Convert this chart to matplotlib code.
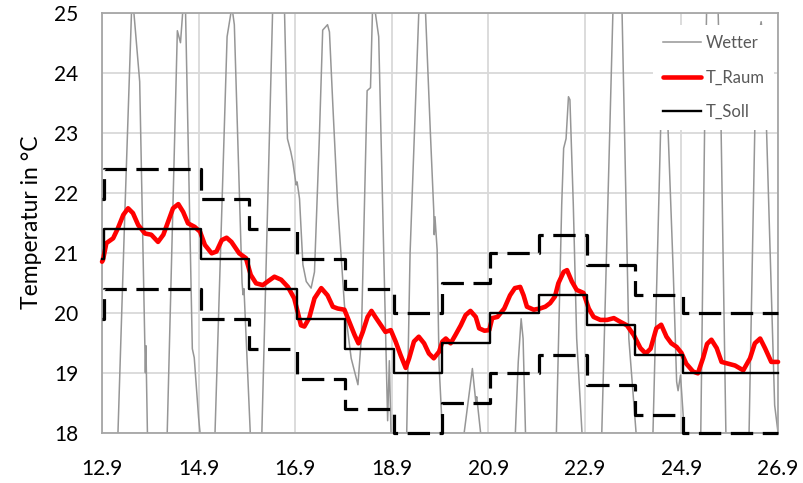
import matplotlib.pyplot as plt
import numpy as np

plt.rcParams['font.family'] = ['Lato', 'DejaVu Sans']

# Zeitachse in Tagen ab 12.9. 00:00
x_ticks = [0, 2, 4, 6, 8, 10, 12, 14]
x_labels = ['12.9', '14.9', '16.9', '18.9', '20.9', '22.9', '24.9', '26.9']

# Außentemperatur (Wetter), nur der Bereich 18..25 °C ist sichtbar
wetter_tag = [0.00, 0.15, 0.33, 0.47, 0.61, 0.64, 0.66, 0.78, 0.886, 0.898, 0.909, 0.94,
              1.12, 1.35, 1.56, 1.625, 1.67, 1.70, 1.73, 1.87, 1.91, 2.00, 2.03,
              2.18, 2.34, 2.59, 2.69, 2.74, 2.90, 2.92, 2.94, 3.07,
              3.18, 3.31, 3.53, 3.65, 3.78, 3.84, 3.91, 3.95, 4.02, 4.04, 4.09, 4.16, 4.23,
              4.33, 4.40, 4.50, 4.57, 4.67, 4.71, 4.78, 4.88, 5.02, 5.16, 5.30, 5.37,
              5.49, 5.56, 5.60, 5.63, 5.66, 5.73, 5.915, 5.95, 5.99,
              6.15, 6.31, 6.38, 6.56, 6.62, 6.70, 6.80, 6.87, 6.88, 6.895, 6.94, 6.98, 7.05,
              7.28, 7.50, 7.67, 7.74, 7.76, 7.84,
              8.20, 8.56, 8.62, 8.68, 8.72, 8.77,
              9.10, 9.41, 9.52, 9.56, 9.61, 9.66, 9.69, 9.76, 9.83, 9.94,
              10.15, 10.35, 10.58, 10.67, 10.77, 10.91, 11.06,
              11.22, 11.41, 11.57, 11.65, 11.72, 11.83, 11.90, 11.93, 11.98, 12.06,
              12.22, 12.40, 12.48, 12.52, 12.64, 12.76, 12.82, 12.92,
              13.15, 13.40, 13.52, 13.60, 13.65, 13.70, 13.76, 13.93, 14.00]
wetter_temp = [15.5, 14.0, 18.0, 21.6, 25.0, 25.3, 25.0, 23.85, 19.5, 19.0, 19.45, 18.0,
               14.5, 18.0, 24.7, 24.5, 25.0, 25.6, 25.0, 19.4, 19.25, 18.25, 18.0,
               14.8, 18.0, 24.6, 25.1, 24.8, 20.5, 20.3, 20.4, 18.0,
               15.0, 18.0, 25.0, 28.0, 25.0, 22.9, 22.68, 22.52, 22.13, 22.18, 21.9, 20.8, 20.52,
               20.41, 20.68, 22.9, 24.71, 24.8, 24.68, 23.46, 21.8, 20.13, 19.24, 18.8, 19.57,
               23.7, 23.75, 25.0, 25.4, 25.0, 24.6, 18.2, 19.2, 17.8,
               14.5, 18.0, 21.0, 25.0, 26.0, 25.0, 23.0, 21.7, 21.3, 21.6, 21.05, 19.13, 18.0,
               16.0, 18.0, 19.07, 18.52, 18.6, 18.0,
               16.0, 18.0, 19.18, 19.9, 19.57, 18.0,
               15.5, 18.0, 21.8, 22.74, 22.9, 23.6, 23.55, 21.8, 19.57, 18.0,
               15.0, 18.0, 25.0, 26.5, 25.0, 19.57, 18.0,
               15.0, 18.0, 23.1, 24.3, 23.1, 20.68, 18.85, 18.7, 18.96, 18.0,
               15.0, 18.0, 23.1, 25.0, 27.5, 25.0, 23.1, 18.0,
               15.0, 18.0, 23.1, 24.6, 24.85, 24.5, 23.1, 18.46, 18.0]

# Raumtemperatur
raum_tag = [0.00, 0.02, 0.09, 0.23, 0.33, 0.44, 0.54, 0.64, 0.75, 0.89,
            1.02, 1.16, 1.27, 1.37, 1.47, 1.58, 1.68, 1.78, 1.92,
            2.03, 2.13, 2.27, 2.37, 2.48, 2.58, 2.68, 2.79, 2.84, 2.98,
            3.08, 3.19, 3.33, 3.43, 3.57, 3.71, 3.85, 3.98,
            4.05, 4.12, 4.19, 4.29, 4.40, 4.54, 4.67, 4.78, 4.88,
            5.02, 5.12, 5.23, 5.31, 5.40, 5.50, 5.58, 5.66, 5.77, 5.87, 5.98,
            6.08, 6.18, 6.29, 6.36, 6.46, 6.56, 6.67, 6.77, 6.87, 6.98,
            7.05, 7.12, 7.22, 7.32, 7.43, 7.53, 7.63, 7.74, 7.81, 7.92,
            8.02, 8.08, 8.19, 8.33, 8.45, 8.55, 8.66, 8.73, 8.80, 8.94,
            9.07, 9.18, 9.28, 9.38, 9.45, 9.56, 9.63, 9.73, 9.83, 9.97,
            10.08, 10.18, 10.32, 10.46, 10.60, 10.73, 10.87,
            11.01, 11.15, 11.26, 11.36, 11.48, 11.58, 11.69, 11.79, 11.90,
            12.00, 12.10, 12.24, 12.34, 12.45, 12.53, 12.62, 12.73, 12.83, 12.97,
            13.11, 13.28, 13.42, 13.52, 13.63, 13.73, 13.86, 14.00]
raum_temp = [20.85, 20.88, 21.16, 21.24, 21.41, 21.63, 21.74, 21.66, 21.46, 21.32,
             21.30, 21.18, 21.30, 21.52, 21.74, 21.81, 21.68, 21.49, 21.43,
             21.35, 21.13, 20.99, 21.02, 21.21, 21.25, 21.18, 21.05, 20.99, 20.91,
             20.63, 20.49, 20.46, 20.52, 20.60, 20.55, 20.43, 20.24,
             20.02, 19.79, 19.77, 19.91, 20.24, 20.41, 20.29, 20.10, 20.07,
             20.05, 19.85, 19.63, 19.49, 19.68, 19.93, 20.03, 19.93, 19.80, 19.68, 19.71,
             19.52, 19.30, 19.08, 19.24, 19.52, 19.60, 19.49, 19.32, 19.24, 19.35,
             19.52, 19.57, 19.49, 19.63, 19.79, 19.96, 20.03, 19.93, 19.74, 19.70,
             19.71, 19.91, 19.93, 20.07, 20.29, 20.41, 20.43, 20.29, 20.10, 20.05,
             20.07, 20.10, 20.16, 20.27, 20.49, 20.68, 20.71, 20.52, 20.38, 20.33,
             20.07, 19.93, 19.88, 19.88, 19.91, 19.85, 19.79,
             19.63, 19.41, 19.32, 19.40, 19.74, 19.80, 19.60, 19.49, 19.43,
             19.33, 19.15, 19.02, 18.99, 19.25, 19.48, 19.55, 19.41, 19.18, 19.15,
             19.12, 19.04, 19.24, 19.49, 19.57, 19.41, 19.18, 19.18]

# Solltemperatur je Tag, Umschaltung jeweils um 01:00
soll_start = 20.9
soll_tage = [21.4, 21.4, 20.9, 20.4, 19.9, 19.4, 19.0, 19.5, 20.0, 20.3, 19.8, 19.3, 19.0, 19.0]
band = 1.0

umschalt = 1 / 24
soll_x = [0] + [d + umschalt for d in range(len(soll_tage))] + [len(soll_tage)]
soll_y = np.array([soll_start] + soll_tage + [soll_tage[-1]])

fig, ax = plt.subplots(figsize=(8.04, 4.83), dpi=100)
fig.subplots_adjust(left=0.1269, right=0.9677, bottom=0.1041, top=0.9737)

ax.plot(wetter_tag, wetter_temp, color='#969696', lw=1.1, label='Wetter', zorder=2)
ax.plot(raum_tag, raum_temp, color='#ff0000', lw=3.3, label='T_Raum', zorder=3,
        solid_capstyle='round', solid_joinstyle='round', clip_on=False)
ax.step(soll_x, soll_y, where='post', color='black', lw=1.7, label='T_Soll', zorder=4,
        clip_on=False)
for grenze in (soll_y + band, soll_y - band):
    ax.step(soll_x, grenze, where='post', color='black', lw=2.3, dashes=(7, 3),
            label='_nolegend_', zorder=4, clip_on=False)

ax.set_xlim(0, 14)
ax.set_ylim(18, 25)
ax.set_xticks(x_ticks)
ax.set_xticklabels(x_labels)
ax.set_yticks(range(18, 26))
ax.grid(True, color='#d9d9d9', lw=1.3)
ax.set_axisbelow(True)
for s in ax.spines.values():
    s.set_color('#a6a6a6')
    s.set_linewidth(1.3)
ax.tick_params(length=0, labelsize=15, colors='black')
ax.tick_params(axis='x', pad=19)
ax.tick_params(axis='y', pad=17)
ax.set_ylabel('Temperatur in °C', fontsize=16.5, labelpad=9)

leg = ax.legend(loc='upper left', bbox_to_anchor=(0.815, 0.97), fontsize=12,
                frameon=True, fancybox=False, framealpha=1, facecolor='white',
                edgecolor='none', handlelength=2.3, handletextpad=0.25,
                labelspacing=1.1, borderpad=0.6, borderaxespad=0)
for t in leg.get_texts():
    t.set_color('#595959')

fig.savefig('out.png', dpi=100)
